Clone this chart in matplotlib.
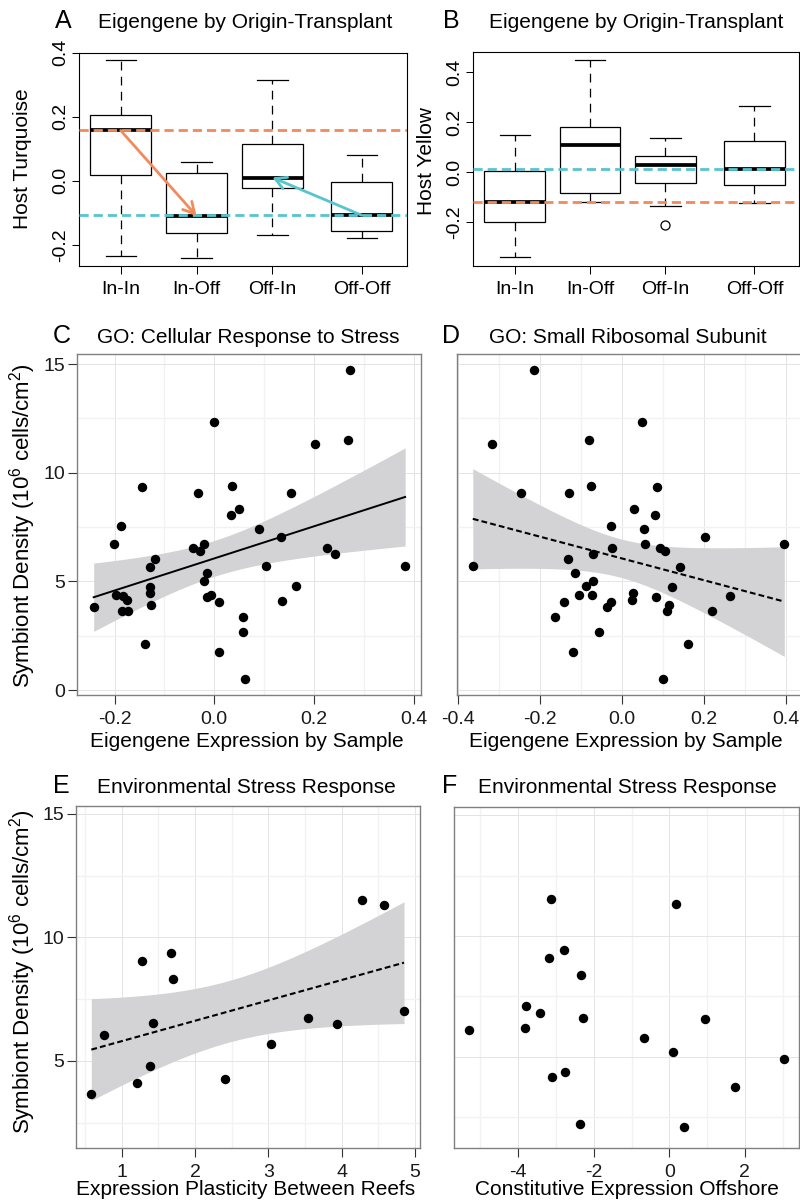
import numpy as np
import matplotlib
matplotlib.use('Agg')
import matplotlib.pyplot as plt

plt.rcParams['font.family'] = ['Liberation Sans', 'DejaVu Sans']
plt.rcParams['mathtext.fontset'] = 'custom'
plt.rcParams['mathtext.rm'] = 'Liberation Sans'
plt.rcParams['mathtext.it'] = 'Liberation Sans:italic'
plt.rcParams['mathtext.bf'] = 'Liberation Sans:bold'
plt.rcParams['axes.unicode_minus'] = False

# ---------------- data ----------------
groups = ['In-In', 'In-Off', 'Off-In', 'Off-Off']

# Panel A: Host Turquoise eigengene
turq_whislo = [-0.234, -0.241, -0.170, -0.178]
turq_q1 = [0.019, -0.164, -0.022, -0.157]
turq_med = [0.157, -0.110, 0.010, -0.108]
turq_q3 = [0.205, 0.023, 0.116, -0.003]
turq_whishi = [0.376, 0.059, 0.315, 0.080]
turq_fliers = [[], [], [], []]

# Panel B: Host Yellow eigengene
yel_whislo = [-0.339, -0.120, -0.136, -0.124]
yel_q1 = [-0.200, -0.083, -0.041, -0.049]
yel_med = [-0.120, 0.108, 0.028, 0.012]
yel_q3 = [0.005, 0.183, 0.067, 0.125]
yel_whishi = [0.149, 0.448, 0.139, 0.264]
yel_fliers = [[], [], [-0.209], []]

# Panel C: GO Cellular response to stress
c_x = [-0.242, -0.198, -0.201, -0.188, -0.183, -0.176, -0.185, -0.174, -0.146, -0.140,
       -0.129, -0.129, -0.129, -0.127, -0.118, -0.042, -0.033, -0.028, -0.021, -0.021,
       -0.014, -0.014, -0.006, -0.001, 0.009, 0.009, 0.035, 0.034, 0.049, 0.058,
       0.058, 0.062, 0.090, 0.103, 0.134, 0.135, 0.153, 0.164, 0.202, 0.227,
       0.242, 0.268, 0.272, 0.383]
c_y = [3.82, 4.37, 6.73, 7.55, 4.33, 4.14, 3.63, 3.62, 9.34, 2.12,
       5.66, 4.75, 4.45, 3.91, 6.04, 6.52, 9.05, 6.40, 6.73, 5.02,
       5.37, 4.26, 4.39, 12.32, 1.76, 4.06, 9.39, 8.05, 8.31, 3.34,
       2.67, 0.51, 7.42, 5.69, 7.02, 4.08, 9.08, 4.80, 11.32, 6.52,
       6.27, 11.52, 14.72, 5.71]

# Panel D: GO Small ribosomal subunit
d_x = [-0.215, -0.319, -0.081, 0.050, -0.248, -0.129, -0.076, 0.085, 0.029, 0.080,
       -0.026, 0.054, 0.204, 0.397, 0.055, -0.024, 0.092, 0.106, -0.071, -0.133,
       -0.365, 0.143, -0.114, -0.071, -0.087, 0.123, -0.106, -0.074, 0.028, 0.084,
       0.263, -0.143, -0.027, 0.025, -0.037, 0.116, 0.109, 0.221, -0.165, -0.056,
       0.162, -0.120, 0.099]
d_y = [14.72, 11.32, 11.52, 12.32, 9.08, 9.05, 9.39, 9.34, 8.31, 8.05,
       7.55, 7.42, 7.02, 6.73, 6.73, 6.52, 6.52, 6.40, 6.27, 6.04,
       5.71, 5.67, 5.37, 5.02, 4.80, 4.75, 4.37, 4.39, 4.45, 4.28,
       4.33, 4.06, 4.06, 4.14, 3.83, 3.91, 3.65, 3.62, 3.34, 2.67,
       2.12, 1.76, 0.51]

# Panel E: plasticity between reefs
e_x = [0.586, 0.764, 1.214, 1.277, 1.391, 1.423, 1.668, 1.705, 2.414, 3.041,
       3.545, 3.932, 4.273, 4.573, 4.850]
e_y = [3.66, 6.05, 4.09, 9.04, 4.80, 6.52, 9.37, 8.30, 4.26, 5.70,
       6.72, 6.49, 11.50, 11.30, 7.02]

# Panel F: constitutive expression offshore
f_x = [-3.13, 0.18, -2.80, -3.19, -2.33, -3.80, -3.41, -2.29, 0.94, -5.29,
       -3.83, -0.68, 0.11, 3.03, 1.75, -2.77, -3.11, -2.37, 0.38]
f_y = [11.55, 11.35, 9.43, 9.11, 8.37, 7.11, 6.81, 6.60, 6.57, 6.12,
       6.20, 5.77, 5.18, 4.89, 3.76, 4.36, 4.17, 2.23, 2.11]

# ---------------- style ----------------
ORANGE = '#F28A5C'
CYAN = '#57C4CE'
W, H = 800, 1201
fig = plt.figure(figsize=(W / 100, H / 100), dpi=100)


def ax_px(l, t, r, b):
    return fig.add_axes([l / W, 1 - b / H, (r - l) / W, (b - t) / H])


def ftext(x, y, s, **kw):
    fig.text(x / W, 1 - y / H, s, **kw)


def t_quant(df, z=1.959964):
    return (z + (z**3 + z) / (4 * df) + (5 * z**5 + 16 * z**3 + 3 * z) / (96 * df**2)
            + (3 * z**7 + 19 * z**5 + 17 * z**3 - 15 * z) / (384 * df**3))


def lm_band(x, y, n=100):
    x = np.asarray(x, float)
    y = np.asarray(y, float)
    b, a = np.polyfit(x, y, 1)
    xs = np.linspace(x.min(), x.max(), n)
    yh = a + b * xs
    df = len(x) - 2
    s = np.sqrt(np.sum((y - (a + b * x)) ** 2) / df)
    sxx = np.sum((x - x.mean()) ** 2)
    se = s * np.sqrt(1 / len(x) + (xs - x.mean()) ** 2 / sxx)
    t = t_quant(df)
    return xs, yh, yh - t * se, yh + t * se


TICK_FS = 14
TITLE_FS = 15
LAB_FS = 15
LET_FS = 18

positions = [1, 2, 3, 4.18]


def base_box(ax, whislo, q1, med, q3, whishi, fliers, xlim, ylim, yticks, ylabels):
    stats = []
    for i in range(len(groups)):
        stats.append(dict(med=med[i], q1=q1[i], q3=q3[i], whislo=whislo[i],
                          whishi=whishi[i], fliers=fliers[i], label=groups[i]))
    ax.bxp(stats, positions=positions, widths=0.8, capwidths=0.4, patch_artist=True,
           boxprops=dict(facecolor='white', edgecolor='black', linewidth=0.9),
           whiskerprops=dict(color='black', linewidth=0.9, linestyle=(0, (7, 5))),
           capprops=dict(color='black', linewidth=0.9),
           medianprops=dict(color='black', linewidth=2.7, solid_capstyle='butt'),
           flierprops=dict(marker='o', markerfacecolor='none', markeredgecolor='black',
                           markersize=6.5, markeredgewidth=0.9))
    ax.set_xlim(*xlim)
    ax.set_ylim(*ylim)
    ax.set_xticks(positions)
    ax.set_xticklabels(groups, fontsize=TICK_FS)
    ax.set_yticks(yticks)
    ax.set_yticklabels(ylabels, fontsize=TICK_FS, rotation=90, va='center')
    ax.tick_params(axis='both', direction='out', length=5.4, width=0.75, color='black')
    ax.tick_params(axis='x', pad=5.5)
    ax.tick_params(axis='y', pad=1.5)
    for sp in ax.spines.values():
        sp.set_color('black')
        sp.set_linewidth(0.8)


# ---------------- Panel A ----------------
axA = ax_px(79, 52.7, 407.3, 265.7)
base_box(axA, turq_whislo, turq_q1, turq_med, turq_q3, turq_whishi, turq_fliers,
         (0.45, 4.78), (-0.2656, 0.40), [0.4, 0.2, 0.0, -0.2], ['0.4', '0.2', '0.0', '-0.2'])
axA.axhline(turq_med[0], color=ORANGE, lw=2.0, dashes=(3.3, 1.8), zorder=5)
axA.axhline(turq_med[3], color=CYAN, lw=2.0, dashes=(3.3, 1.8), zorder=5)
axA.annotate('', xy=(positions[1], turq_med[1]), xytext=(positions[0], turq_med[0]),
             arrowprops=dict(arrowstyle='->,head_length=0.4,head_width=0.22', color=ORANGE,
                             lw=2.0, shrinkA=0, shrinkB=0, mutation_scale=20), zorder=6)
axA.annotate('', xy=(positions[2], turq_med[2]), xytext=(positions[3], turq_med[3]),
             arrowprops=dict(arrowstyle='->,head_length=0.4,head_width=0.22', color=CYAN,
                             lw=2.0, shrinkA=0, shrinkB=0, mutation_scale=20), zorder=6)

# ---------------- Panel B ----------------
axB = ax_px(472.7, 52.3, 799, 265.7)
base_box(axB, yel_whislo, yel_q1, yel_med, yel_q3, yel_whishi, yel_fliers,
         (0.444, 4.77), (-0.3736, 0.48), [0.4, 0.2, 0.0, -0.2], ['0.4', '0.2', '0.0', '-0.2'])
axB.axhline(yel_med[3], color=CYAN, lw=2.0, dashes=(3.3, 1.8), zorder=5)
axB.axhline(yel_med[0], color=ORANGE, lw=2.0, dashes=(3.3, 1.8), zorder=5)

# titles / labels A, B
ftext(55, 28.5, 'A', fontsize=LET_FS, va='baseline', ha='left')
ftext(245, 28.5, 'Eigengene by Origin-Transplant', fontsize=TITLE_FS, va='baseline', ha='center')
ftext(443, 28.5, 'B', fontsize=LET_FS, va='baseline', ha='left')
ftext(636, 28.5, 'Eigengene by Origin-Transplant', fontsize=TITLE_FS, va='baseline', ha='center')
ftext(23, 159, 'Host Turquoise', fontsize=LAB_FS, rotation=90, va='center', ha='center')
ftext(426, 161, 'Host Yellow', fontsize=LAB_FS, rotation=90, va='center', ha='center')


# ---------------- ggplot-like panels ----------------
def gg_panel(ax, xlim, ylim, xmaj, xlabs, xmin, ymaj, ylabs, ymin, show_y=True):
    ax.set_xlim(*xlim)
    ax.set_ylim(*ylim)
    ax.set_xticks(xmaj)
    ax.set_xticklabels(xlabs, fontsize=TICK_FS, color='#1a1a1a')
    ax.set_xticks(xmin, minor=True)
    ax.set_yticks(ymaj)
    ax.set_yticks(ymin, minor=True)
    if show_y:
        ax.set_yticklabels(ylabs, fontsize=TICK_FS, color='#1a1a1a')
        ax.tick_params(axis='y', which='major', length=6.5, width=0.8, color='#333333', pad=2)
    else:
        ax.set_yticklabels([])
        ax.tick_params(axis='y', which='major', length=0)
    ax.tick_params(axis='x', which='major', length=6.5, width=0.8, color='#333333', pad=5)
    ax.tick_params(which='minor', length=0)
    ax.grid(which='major', color='#E4E4E4', lw=0.7)
    ax.grid(which='minor', color='#F2F2F2', lw=1.0)
    ax.set_axisbelow(True)
    for sp in ax.spines.values():
        sp.set_color('#808080')
        sp.set_linewidth(1.0)


def reg(ax, x, y, dashed):
    xs, yh, lo, hi = lm_band(x, y)
    ax.fill_between(xs, lo, hi, color='#D3D3D5', lw=0, zorder=2)
    if dashed:
        ax.plot(xs, yh, color='black', lw=1.5, dashes=(2.8, 1.5), zorder=3)
    else:
        ax.plot(xs, yh, color='black', lw=1.4, zorder=3)


def pts(ax, x, y):
    ax.plot(x, y, 'o', color='black', ms=6.8, mec='none', zorder=4)


ylab = r'Symbiont Density (10$^{\mathregular{6}}$ cells/cm$^{\mathregular{2}}$)'

# Panel C
axC = ax_px(77.3, 354.3, 421, 695)
gg_panel(axC, (-0.2749, 0.4148), (-0.230, 15.449),
         [-0.2, 0.0, 0.2, 0.4], ['-0.2', '0.0', '0.2', '0.4'], [-0.1, 0.1, 0.3],
         [0, 5, 10, 15], ['0', '5', '10', '15'], [2.5, 7.5, 12.5])
reg(axC, c_x, c_y, dashed=False)
pts(axC, c_x, c_y)

# Panel D
axD = ax_px(456.7, 354.3, 801.5, 695)
gg_panel(axD, (-0.4044, 0.4390), (-0.230, 15.449),
         [-0.4, -0.2, 0.0, 0.2, 0.4], ['-0.4', '-0.2', '0.0', '0.2', '0.4'], [-0.3, -0.1, 0.1, 0.3],
         [0, 5, 10, 15], [], [2.5, 7.5, 12.5], show_y=False)
reg(axD, d_x, d_y, dashed=True)
pts(axD, d_x, d_y)

ftext(53, 342.7, 'C', fontsize=LET_FS, va='baseline', ha='left')
ftext(248, 342.7, 'GO: Cellular Response to Stress', fontsize=TITLE_FS, va='baseline', ha='center')
ftext(441.7, 342.7, 'D', fontsize=LET_FS, va='baseline', ha='left')
ftext(628, 342.7, 'GO: Small Ribosomal Subunit', fontsize=TITLE_FS, va='baseline', ha='center')
ftext(247, 746.7, 'Eigengene Expression by Sample', fontsize=LAB_FS, va='baseline', ha='center')
ftext(626, 746.7, 'Eigengene Expression by Sample', fontsize=LAB_FS, va='baseline', ha='center')
ftext(23, 526, ylab, fontsize=16, rotation=90, va='center', ha='center')

# Panel E
axE = ax_px(76, 806, 420, 1147.7)
gg_panel(axE, (0.377, 5.068), (1.483, 15.317),
         [1, 2, 3, 4, 5], ['1', '2', '3', '4', '5'], [0.5, 1.5, 2.5, 3.5, 4.5],
         [5, 10, 15], ['5', '10', '15'], [2.5, 7.5, 12.5])
reg(axE, e_x, e_y, dashed=True)
pts(axE, e_x, e_y)

# Panel F
axF = ax_px(454, 806.5, 799, 1148)
gg_panel(axF, (-5.70, 3.435), (1.22, 15.37),
         [-4, -2, 0, 2], ['-4', '-2', '0', '2'], [-5, -3, -1, 1, 3],
         [5, 10, 15], [], [2.5, 7.5, 12.5], show_y=False)
pts(axF, f_x, f_y)

ftext(53, 792.7, 'E', fontsize=LET_FS, va='baseline', ha='left')
ftext(246, 792.7, 'Environmental Stress Response', fontsize=TITLE_FS, va='baseline', ha='center')
ftext(441.7, 792.7, 'F', fontsize=LET_FS, va='baseline', ha='left')
ftext(627, 792.7, 'Environmental Stress Response', fontsize=TITLE_FS, va='baseline', ha='center')
ftext(246, 1195, 'Expression Plasticity Between Reefs', fontsize=LAB_FS, va='baseline', ha='center')
ftext(627, 1195, 'Constitutive Expression Offshore', fontsize=LAB_FS, va='baseline', ha='center')
ftext(23, 972, ylab, fontsize=16, rotation=90, va='center', ha='center')

fig.savefig('out.png', dpi=100, facecolor='white')
